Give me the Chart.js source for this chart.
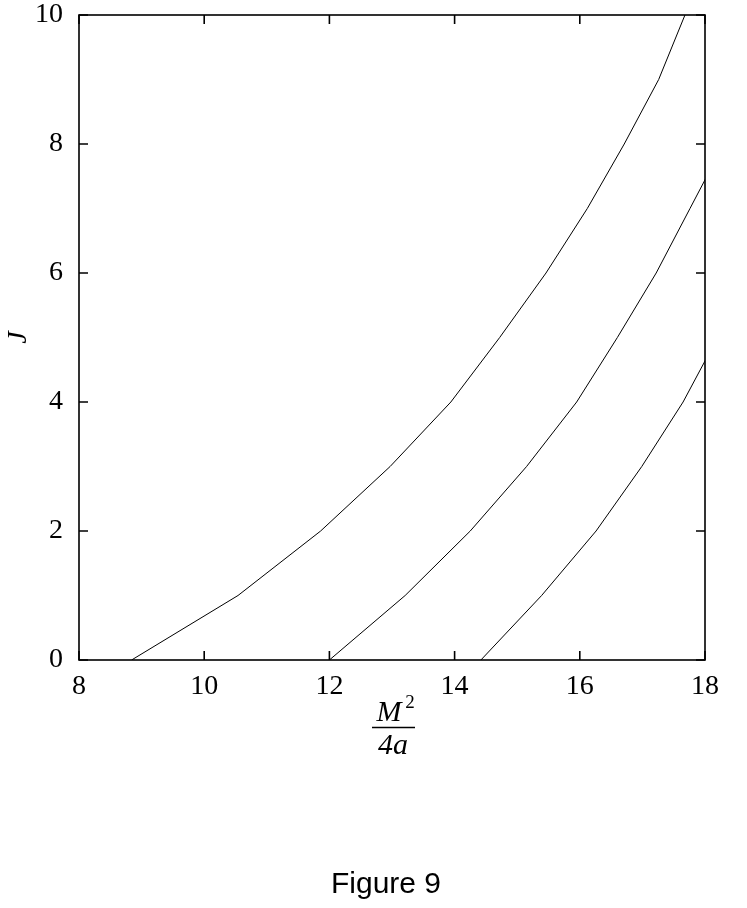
<!DOCTYPE html>
<html>
<head>
<meta charset="utf-8">
<script src="https://cdn.jsdelivr.net/npm/chart.js@4.4.0/dist/chart.umd.min.js"></script>
<style>
  html, body { margin: 0; padding: 0; background: #fff; }
  #wrap { width: 747px; height: 908px; position: relative; }
</style>
</head>
<body>
<div id="wrap"><canvas id="myChart"></canvas></div>
<script>
const ctx = document.getElementById("myChart");

// J levels along each trajectory, and M^2/4a where each level sits
const curve1X = [8.84, 10.54, 11.86, 12.97, 13.94, 14.72, 15.46, 16.12, 16.71, 17.26, 17.68];
const curve1J = [0, 1, 2, 3, 4, 5, 6, 7, 8, 9, 10];
const curve2X = [12.0, 13.21, 14.25, 15.15, 15.95, 16.6, 17.22, 17.76, 18.3];
const curve2J = [0, 1, 2, 3, 4, 5, 6, 7, 8];
const curve3X = [14.42, 15.39, 16.26, 16.99, 17.65, 18.2];
const curve3J = [0, 1, 2, 3, 4, 5];

const xTicks = [8, 10, 12, 14, 16, 18];
const yTicks = [0, 2, 4, 6, 8, 10];

const serif = "'Liberation Serif', 'Times New Roman', serif";
const toPoints = (xs, ys) => xs.map((x, i) => ({ x: x, y: ys[i] }));

const line = (xs, ys) => ({
  data: toPoints(xs, ys),
  showLine: true,
  borderColor: "#000",
  borderWidth: 1,
  pointRadius: 0,
  tension: 0,
  fill: false
});

// gnuplot style frame with inward ticks on all four sides, plus the extra labels
const framePlugin = {
  id: "frame",
  afterDraw(chart) {
    const c = chart.ctx;
    const a = chart.chartArea;
    const xs = chart.scales.x, ys = chart.scales.y;
    const tl = 9;
    c.save();
    c.strokeStyle = "#000";
    c.lineWidth = 1.6;
    c.strokeRect(a.left, a.top, a.right - a.left, a.bottom - a.top);
    c.beginPath();
    xTicks.forEach(v => {
      const px = xs.getPixelForValue(v);
      c.moveTo(px, a.bottom); c.lineTo(px, a.bottom - tl);
      c.moveTo(px, a.top); c.lineTo(px, a.top + tl);
    });
    yTicks.forEach(v => {
      const py = ys.getPixelForValue(v);
      c.moveTo(a.left, py); c.lineTo(a.left + tl, py);
      c.moveTo(a.right, py); c.lineTo(a.right - tl, py);
    });
    c.stroke();

    // x axis title: M^2 over 4a
    const cx = 393;
    c.fillStyle = "#000";
    c.textBaseline = "alphabetic";
    c.textAlign = "center";
    c.font = "italic 30px " + serif;
    c.fillText("M", cx - 4, 721);
    c.font = "19px " + serif;
    c.fillText("2", cx + 17, 708);
    c.lineWidth = 1.3;
    c.beginPath();
    c.moveTo(cx - 21, 727.5); c.lineTo(cx + 22, 727.5);
    c.stroke();
    c.font = "italic 30px " + serif;
    c.fillText("4a", cx, 754);

    c.font = "30px 'Liberation Sans', Arial, sans-serif";
    c.fillText("Figure 9", 386, 893);
    c.restore();
  }
};

const chart = new Chart(ctx, {
  type: "scatter",
  data: {
    datasets: [
      line(curve1X, curve1J),
      line(curve2X, curve2J),
      line(curve3X, curve3J)
    ]
  },
  options: {
    responsive: true,
    maintainAspectRatio: false,
    animation: false,
    layout: { padding: { left: 0, top: 15, right: 42, bottom: 0 } },
    plugins: {
      legend: { display: false },
      tooltip: { enabled: false }
    },
    scales: {
      x: {
        type: "linear",
        min: 8,
        max: 18,
        grid: { display: false, drawTicks: false },
        border: { display: false },
        afterBuildTicks: (s) => { s.ticks = xTicks.map(v => ({ value: v })); },
        afterFit: (s) => { s.height = 248; },
        ticks: {
          color: "#000",
          padding: 13,
          maxRotation: 0,
          font: { family: serif, size: 28, lineHeight: 1 }
        }
      },
      y: {
        type: "linear",
        min: 0,
        max: 10,
        grid: { display: false, drawTicks: false },
        border: { display: false },
        afterBuildTicks: (s) => { s.ticks = yTicks.map(v => ({ value: v })); },
        afterFit: (s) => { s.width = 79; s.paddingTop = 0; s.paddingBottom = 0; },
        title: {
          display: true,
          text: "J",
          color: "#000",
          padding: { top: 5, bottom: 4 },
          font: { family: serif, size: 28, style: "italic", lineHeight: 1 }
        },
        ticks: {
          color: "#000",
          padding: 16,
          font: { family: serif, size: 28, lineHeight: 1 }
        }
      }
    }
  },
  plugins: [framePlugin]
});
</script>
</body>
</html>
